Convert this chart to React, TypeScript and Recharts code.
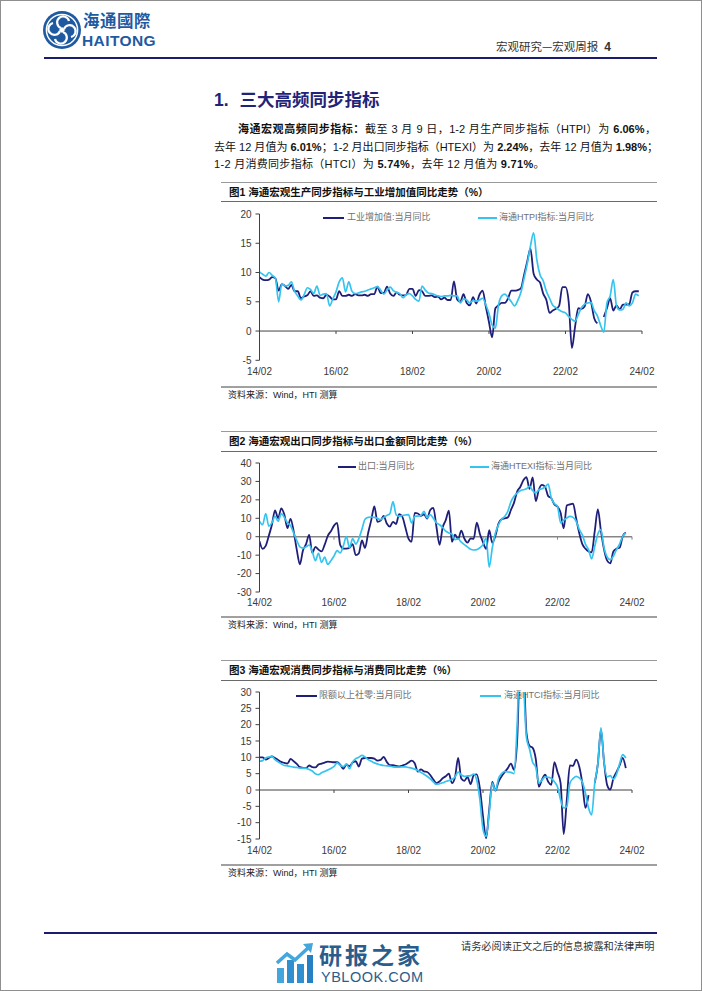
import React from 'react';
import { LineChart, Line, XAxis, YAxis, ReferenceLine } from 'recharts';

const SANS = "'Liberation Sans', Arial, 'Noto Sans CJK SC', sans-serif";
const CJK = "'Noto Sans CJK SC', 'Liberation Sans', sans-serif";
const DARK = '#1f1f7a';
const LIGHT = '#35c4ef';
const LOGO_BLUE = '#1f5aa0';

// x = months since 2014-02
const tickMonths = [0, 24, 48, 72, 96, 120];
const tickLabels = ['14/02', '16/02', '18/02', '20/02', '22/02', '24/02'];

// 图1 工业增加值:当月同比
const ivaYoy: (number | null)[] = [
  9.2, 8.8, 8.7, 8.8, 9.2, 9.0, 6.9, 8.0, 7.7, 7.2, 7.9,
  6.8, 6.8, 5.6, 5.9, 6.1, 6.8, 6.0, 6.1, 5.7, 5.6, 6.2, 5.9,
  5.4, 5.4, 6.8, 6.0, 6.0, 6.2, 6.0, 6.3, 6.1, 6.1, 6.2, 6.0,
  6.3, 6.3, 7.6, 6.5, 6.5, 7.6, 6.4, 6.0, 6.6, 6.2, 6.1, 6.2,
  7.2, 7.2, 6.0, 7.0, 6.8, 6.0, 6.0, 6.1, 5.8, 5.9, 5.4, 5.7,
  5.3, 5.3, 8.5, 5.4, 5.0, 6.3, 4.8, 4.4, 5.8, 4.7, 6.2, 6.9,
  4.2, 1.5, -1.1, 3.9, 4.4, 4.8, 4.8, 5.6, 6.9, 6.9, 7.0, 7.3,
  9.6, 11.9, 14.1, 9.8, 8.8, 8.3, 6.4, 5.3, 3.1, 3.5, 3.8, 4.3,
  7.5, 7.5, 5.0, -2.9, 0.7, 3.9, 3.8, 4.2, 6.3, 5.0, 2.2, 1.3,
  null, 2.4, 3.9, 5.6, 3.5, 4.4, 3.7, 4.5, 4.5, 4.6, 6.6, 6.8,
  6.8,
];

// 图1 海通HTPI指标:当月同比
const htpi: (number | null)[] = [
  10.1, 9.7, 9.4, 10.0, 9.5, 9.0, 5.0, 8.1, 7.7, 7.8, 8.4,
  6.8, 6.0, 5.3, 6.2, 7.4, 7.1, 6.4, 7.7, 6.1, 6.3, 6.4, 4.3,
  5.5, 6.7, 8.4, 9.1, 6.7, 8.4, 6.8, 6.4, 6.5, 6.7, 6.8, 7.0,
  7.2, 7.4, 7.6, 7.0, 6.3, 7.0, 7.5, 6.9, 6.6, 6.4, 5.7, 6.2,
  6.4, 6.0, 5.4, 5.1, 7.7, 7.0, 6.5, 6.4, 6.2, 6.0, 5.9, 6.0,
  6.0, 6.1, 6.0, 6.0, 4.8, 5.5, 5.3, 4.8, 5.2, 5.1, 5.3, 5.6,
  4.5, 3.0, 1.0, 0.5, 4.5, 6.0, 6.3, 5.7, 5.0, 4.3, 5.2, 6.6,
  9.0, 11.5, 14.5, 16.8, 12.2, 9.6, 8.6, 6.8, 5.6, 4.4, 4.0, 3.6,
  3.3, 3.1, 2.5, 2.0, 1.7, 2.8, 4.0, 4.6, 4.8, 4.9, 3.5, 2.6,
  1.0, -0.2, 4.8, 6.0, 8.8, 4.3, 3.6, 3.7, 4.8, 4.3, 4.8, 6.3,
  6.0,
];

// 图2 出口:当月同比
const exportYoy: (number | null)[] = [
  -2.5, -6.6, -5.0, 0.5, 6.5, 14.3, 10.0, 15.3, 12.0, 4.7, 9.7,
  3.0, -7.0, -15.0, -7.5, -4.0, 1.0, -8.8, -5.5, -7.0, -8.0, -4.3, 0.5,
  3.0, 6.0, 7.5, -4.5, -6.5, -6.5, -6.0, -4.0, -10.0, -9.0, -2.0, -6.1,
  2.0, 9.0, 16.4, 8.0, 8.7, 11.3, 7.2, 5.5, 8.1, 6.9, 12.3, 10.9,
  5.0, -1.0, -2.7, 12.9, 12.6, 11.3, 12.2, 9.8, 14.5, 15.6, 5.4, -4.4,
  5.0, 9.0, 14.2, -2.7, 1.1, -1.3, 3.3, -1.0, -3.2, -0.9, -1.1, 7.6,
  1.5, -3.0, -6.6, 3.5, -3.3, 0.5, 7.2, 9.5, 10.0, 10.5, 14.5, 18.5,
  24.5, 27.0, 30.6, 32.3, 26.0, 32.2, 19.3, 25.6, 28.1, 27.1, 22.0, 20.9,
  17.5, 16.3, 13.0, 4.5, 16.9, 17.5, 18.0, 10.0, 2.0, -4.0, -6.5, -8.0,
  -8.5, 3.0, 14.8, 3.0, -7.0, -13.0, -14.5, -8.0, -6.5, -6.0, 0.2, 2.3,
];

// 图2 海通HTEXI指标:当月同比
const htexi: (number | null)[] = [
  8.5, 6.5, 12.5, 5.8, 7.5, 11.0, 8.4, 12.5, 10.5, 7.5, 6.0,
  2.0, -2.0, -5.5, -6.2, -5.5, -4.5, -8.0, -13.0, -9.0, -14.0, -11.0, -15.0,
  -13.0, -10.5, -7.5, -8.8, -5.0, 0.0, -6.0, -1.0, -4.0, -1.0, 4.0, 9.5,
  10.5, 10.7, 10.5, 10.0, 9.2, 10.5, 11.5, 12.5, 19.0, 12.0, 11.0, 11.5,
  11.8, 12.0, 7.5, 11.0, 11.2, 11.5, 13.8, 10.2, 12.0, 10.0, 7.5, 6.5,
  5.0, 3.0, 2.0, 1.5, -1.6, -1.2, -3.0, -4.3, -5.5, -6.8, -7.2, -7.0,
  -6.0, -4.3, -0.7, -16.5, -6.0, 2.0, 6.5, 9.5, 11.0, 13.8, 19.0, 22.0,
  23.7, 25.0, 25.5, 26.0, 27.5, 25.0, 23.7, 25.5, 26.0, 27.0, 28.5, 21.0,
  18.0, 16.5, 7.5, 9.0, 10.2, 11.0, 10.5, 8.4, 4.0, 1.0, -4.0, -7.0,
  -12.0, -5.2, 1.5, 3.8, -6.0, -11.0, -12.4, -10.6, -7.0, -4.0, 0.2, 2.0,
];

// 图3 限额以上社零:当月同比
const retailYoy: (number | null)[] = [
  10.0, 10.0, 9.3, 9.8, 10.3, 9.8, 9.2, 8.6, 8.3, 8.1, 9.5,
  8.8, 8.0, 7.0, 6.8, 6.7, 7.5, 7.0, 6.9, 7.8, 8.1, 8.4, 8.7,
  8.6, 8.5, 8.5, 7.8, 6.5, 7.8, 7.3, 8.4, 8.8, 7.2, 9.6, 9.8,
  9.8, 9.8, 9.6, 9.0, 9.2, 10.1, 8.6, 7.6, 7.6, 7.4, 7.2, 7.5,
  7.8, 8.4, 9.0, 8.2, 5.6, 6.3, 5.7, 5.5, 4.6, 3.2, 2.1, 2.6,
  3.6, 4.2, 5.0, 2.1, 4.0, 9.8, 3.5, 2.8, 4.0, 1.8, 4.5, 4.8,
  0.5, -8.0, -14.8, -6.0, 2.5, -0.2, 2.5, 4.2, 5.5, 6.7, 8.1, 6.2,
  15.0, 40.0, 38.0, 17.5, 13.5, 12.9, 9.5, 1.0, 3.2, 4.7, 2.5, 1.6,
  8.5, 5.5, 2.1, -13.5, -3.0, 7.5, 7.4, 9.3, 7.2, 2.0, -5.5, -1.6,
  null, 2.1, 8.0, 18.5, 8.5, 1.5, 0.1, 3.5, 5.5, 7.5, 9.8, 6.7,
];

// 图3 海通HTCI指标:当月同比
const htci: (number | null)[] = [
  8.8, 9.0, 9.8, 10.1, 10.3, 9.3, 8.6, 8.0, 7.5, 7.4, 7.2,
  7.0, 6.9, 6.7, 6.7, 6.6, 6.3, 5.8, 5.0, 4.7, 5.3, 5.7, 6.1,
  6.6, 7.2, 8.3, 7.6, 7.2, 7.9, 6.5, 8.6, 9.6, 10.0, 10.6, 10.1,
  9.3, 8.8, 8.3, 8.0, 7.7, 7.5, 7.4, 7.3, 7.1, 7.0, 7.0, 7.1,
  7.1, 6.9, 6.7, 6.4, 6.0, 5.4, 4.8, 4.2, 3.4, 2.5, 1.7, 1.9,
  2.2, 2.6, 2.9, 3.2, 4.0, 5.5, 4.6, 4.2, 4.3, 4.4, 4.9, 3.0,
  -3.0, -12.0, -14.2, -7.0, 2.1, -0.2, 3.5, 5.0, 5.7, 5.5, 5.4, 5.0,
  20.0, 45.0, 34.0, 16.0, 12.5, 8.5, 7.0, 2.1, 3.0, 4.0, 3.9, 3.6,
  2.5, 1.0, -3.0, -5.5, -5.0, 2.1, 3.5, 4.2, 3.7, 2.5, -1.0, -5.5,
  -7.6, 2.1, 8.0, 19.0, 8.5, 4.0, 4.4, 3.3, 4.8, 8.0, 10.8, 9.8,
];

function toRows(a: (number | null)[], b: (number | null)[]) {
  const n = Math.max(a.length, b.length);
  return Array.from({ length: n }, (_, m) => ({ m, a: a[m] ?? null, b: b[m] ?? null }));
}

const abs = (left: number, top: number): React.CSSProperties => ({ position: 'absolute', left, top });

function Txt({ x, cy, size, lh = 1.3, children, style }: any) {
  const h = size * lh;
  return (
    <div style={{ ...abs(x, cy - h / 2), fontSize: size, lineHeight: `${h}px`, height: h, whiteSpace: 'nowrap', fontFamily: SANS, ...style }}>
      {children}
    </div>
  );
}

function HLine({ x1, x2, y, h = 1, color }: any) {
  return <div style={{ ...abs(x1, y - h / 2), width: x2 - x1, height: h, background: color }} />;
}

function LegendItem({ x1, x2, tx, y, color, label }: any) {
  return (
    <>
      <HLine x1={x1} x2={x2} y={y} h={2} color={color} />
      <Txt x={tx} cy={y} size={9} style={{ color: '#707070', fontFamily: SANS }}>{label}</Txt>
    </>
  );
}

function FigureFrame({ top, titleY, bottom, srcLine, srcY, title }: any) {
  return (
    <>
      <HLine x1={220} x2={656} y={top} color="#9a9a9a" />
      <Txt x={228} cy={titleY} size={10.5} style={{ fontWeight: 'bold', color: '#111' }}>{title}</Txt>
      <HLine x1={220} x2={656} y={bottom} color="#6a6a6a" />
      <HLine x1={220} x2={656} y={srcLine} h={1.5} color="#a0a0a0" />
      <Txt x={227} cy={srcY} size={9} style={{ color: '#222' }}>资料来源：Wind，HTI 测算</Txt>
    </>
  );
}

function SyncChart({ rows, plotTop, plotBottom, plotRight, domain, yTicks, tickDepth, zeroStroke, zeroWidth, labelGap }: any) {
  const chartTop = plotTop - 8;
  const height = plotBottom - chartTop + 21;
  const tickStyle = { fontSize: 10, fill: '#3a3a3a', fontFamily: SANS };
  return (
    <div style={{ ...abs(213, chartTop) }}>
      <LineChart width={442} height={height} data={rows} margin={{ top: 8, right: 655 - plotRight, bottom: 1, left: 0 }}>
        <XAxis
          dataKey="m"
          type="number"
          domain={[0, 120]}
          ticks={tickMonths}
          interval={0}
          tickFormatter={(v: number) => tickLabels[tickMonths.indexOf(v)] ?? ''}
          axisLine={false}
          tickLine={false}
          tickSize={6}
          tickMargin={labelGap}
          height={20}
          tick={tickStyle}
          allowDataOverflow
        />
        <YAxis
          type="number"
          domain={domain}
          ticks={yTicks}
          interval={0}
          width={45.5}
          tickSize={4}
          tickMargin={4}
          axisLine={{ stroke: '#404040' }}
          tickLine={{ stroke: '#404040' }}
          tick={tickStyle}
          allowDataOverflow
        />
        <ReferenceLine y={0} stroke={zeroStroke} strokeWidth={zeroWidth} />
        {tickMonths.slice(1).map((m) => (
          <ReferenceLine key={m} segment={[{ x: m, y: 0 }, { x: m, y: -tickDepth }]} stroke={zeroStroke} />
        ))}
        <Line type="monotone" dataKey="a" stroke={DARK} strokeWidth={1.8} dot={false} activeDot={false} isAnimationActive={false} />
        <Line type="monotone" dataKey="b" stroke={LIGHT} strokeWidth={1.7} dot={false} activeDot={false} isAnimationActive={false} />
      </LineChart>
    </div>
  );
}

function Logo() {
  return (
    <svg width={40} height={40} viewBox="-20 -20 40 40" style={abs(41, 9)}>
      <circle r={19} fill={LOGO_BLUE} />
      <circle r={15.6} fill="none" stroke="#fff" strokeWidth={1.5} />
      {[0, 90, 180, 270].map((a) => (
        <g key={a} transform={`rotate(${a})`}>
          <path d="M 2 -1 A 6 6 0 1 1 9 7" fill="none" stroke="#fff" strokeWidth={2.2} />
        </g>
      ))}
      <rect x={-2.2} y={-2.2} width={4.4} height={4.4} fill="#fff" transform="rotate(45)" />
    </svg>
  );
}

function WatermarkIcon() {
  return (
    <svg width={38} height={40} style={abs(275, 942)}>
      <rect x={1} y={25} width={7} height={15} fill="#43a6dc" />
      <rect x={11} y={17} width={7} height={23} fill="#2f8fcf" />
      <rect x={21} y={21} width={7} height={19} fill="#2f8fcf" />
      <rect x={31} y={12} width={6} height={28} fill="#2580c4" />
      <polyline points="1,20 11,11 19,17 32,5" fill="none" stroke="#43a6dc" strokeWidth={3.5} />
      <polygon points="27,1 37,0 35,10" fill="#43a6dc" />
    </svg>
  );
}

export default function App() {
  const y1Ticks = [-5, 0, 5, 10, 15, 20];
  const y2Ticks = [-30, -20, -10, 0, 10, 20, 30, 40];
  const y3Ticks = [-15, -10, -5, 0, 5, 10, 15, 20, 25, 30];
  return (
    <div style={{ position: 'absolute', left: 0, top: 0, width: 702, height: 991, background: '#fff', boxSizing: 'border-box', border: '1px solid #8f8f8f', overflow: 'hidden', fontFamily: SANS }}>
      {/* header */}
      <Logo />
      <Txt x={82} cy={19.5} size={16.5} lh={1.0} style={{ fontFamily: CJK, fontWeight: 'bold', color: LOGO_BLUE, letterSpacing: 0.5 }}>海通國際</Txt>
      <Txt x={81} cy={39.5} size={15.5} lh={1.0} style={{ fontWeight: 'bold', color: LOGO_BLUE, letterSpacing: 0.4 }}>HAITONG</Txt>
      <Txt x={495} cy={45} size={11.5} style={{ color: '#333', fontFamily: CJK }}>
        宏观研究—宏观周报<span style={{ fontFamily: SANS, fontWeight: 'bold', fontSize: 12, marginLeft: 6 }}>4</span>
      </Txt>
      <HLine x1={43} x2={656} y={57} h={2} color="#1c1c6e" />

      {/* section title */}
      <Txt x={213} cy={98} size={17.5} style={{ fontWeight: 'bold', color: '#1f2478' }}>
        1.<span style={{ marginLeft: 11, fontFamily: CJK }}>三大高频同步指标</span>
      </Txt>

      {/* paragraph */}
      <div style={{ ...abs(237, 119), width: 418, fontSize: 11, lineHeight: '18px', whiteSpace: 'nowrap', textAlign: 'justify', textAlignLast: 'justify', color: '#111' }}>
        <b>海通宏观高频同步指标：</b>截至 3 月 9 日，1-2 月生产同步指标（HTPI）为 <b>6.06%</b>，
      </div>
      <div style={{ ...abs(213, 136.5), width: 444, fontSize: 11, lineHeight: '18px', whiteSpace: 'nowrap', textAlign: 'justify', textAlignLast: 'justify', color: '#111' }}>
        去年 12 月值为 <b>6.01%</b>；1-2 月出口同步指标（HTEXI）为 <b>2.24%</b>，去年 12 月值为 <b>1.98%</b>；
      </div>
      <div style={{ ...abs(213, 154), fontSize: 11, lineHeight: '18px', whiteSpace: 'nowrap', letterSpacing: 0.3, color: '#111' }}>
        1-2 月消费同步指标（HTCI）为 <b>5.74%</b>，去年 12 月值为 <b>9.71%</b>。
      </div>

      {/* figure 1 */}
      <FigureFrame top={181} titleY={191.5} bottom={200.5} srcLine={386} srcY={395} title="图1  海通宏观生产同步指标与工业增加值同比走势（%）" />
      <LegendItem x1={322} x2={343} tx={346} y={217} color={DARK} label="工业增加值:当月同比" />
      <LegendItem x1={477} x2={496} tx={498} y={217} color={LIGHT} label="海通HTPI指标:当月同比" />
      <SyncChart rows={toRows(ivaYoy, htpi)} plotTop={212.7} plotBottom={359} plotRight={641} domain={[-5, 20]} yTicks={y1Ticks} tickDepth={0.5} zeroStroke="#404040" zeroWidth={1} labelGap={1.5} />

      {/* figure 2 */}
      <FigureFrame top={430} titleY={440.5} bottom={450} srcLine={616} srcY={624.5} title="图2  海通宏观出口同步指标与出口金额同比走势（%）" />
      <LegendItem x1={337} x2={355} tx={357} y={465.7} color={DARK} label="出口:当月同比" />
      <LegendItem x1={469} x2={488} tx={490} y={465.7} color={LIGHT} label="海通HTEXI指标:当月同比" />
      <SyncChart rows={toRows(exportYoy, htexi)} plotTop={461.7} plotBottom={590.7} plotRight={631} domain={[-30, 40]} yTicks={y2Ticks} tickDepth={1.6} zeroStroke="#858585" zeroWidth={1.6} labelGap={0.5} />

      {/* figure 3 */}
      <FigureFrame top={659} titleY={669.5} bottom={679} srcLine={864} srcY={872.5} title="图3  海通宏观消费同步指标与消费同比走势（%）" />
      <LegendItem x1={295} x2={316} tx={318} y={695} color={DARK} label="限额以上社零:当月同比" />
      <LegendItem x1={479} x2={500} tx={503} y={695} color={LIGHT} label="海通HTCI指标:当月同比" />
      <SyncChart rows={toRows(retailYoy, htci)} plotTop={690.7} plotBottom={837.7} plotRight={631} domain={[-15, 30]} yTicks={y3Ticks} tickDepth={0.9} zeroStroke="#404040" zeroWidth={1} labelGap={1.8} />

      {/* footer */}
      <HLine x1={43} x2={656} y={932} h={2} color="#1c1c6e" />
      <Txt x={460} cy={944.5} size={10.2} style={{ color: '#333', fontFamily: CJK }}>请务必阅读正文之后的信息披露和法律声明</Txt>
      <WatermarkIcon />
      <Txt x={318} cy={953} size={23} lh={1.0} style={{ color: '#2b5d8c', fontFamily: CJK, fontWeight: 'bold', letterSpacing: 3 }}>研报之家</Txt>
      <Txt x={320} cy={976.5} size={14.5} lh={1.0} style={{ color: '#2b5d8c', letterSpacing: 0.5 }}>YBLOOK.COM</Txt>
    </div>
  );
}
